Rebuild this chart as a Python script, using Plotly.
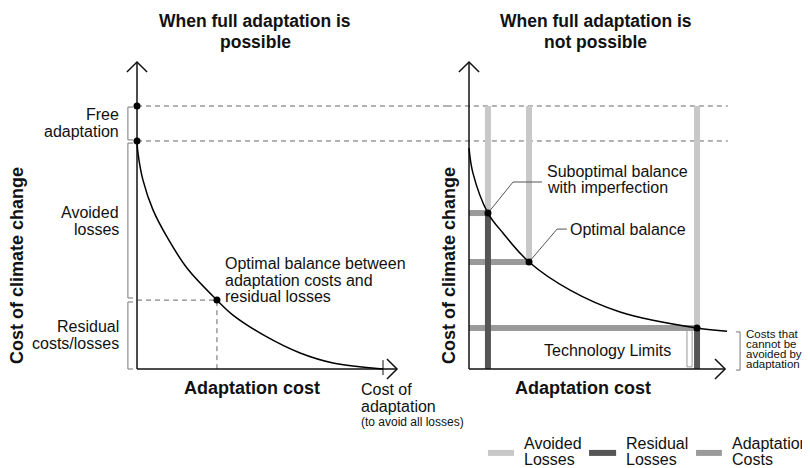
import plotly.graph_objects as go

FONT = "Liberation Sans, Arial, sans-serif"

# left panel: full adaptation is possible
left_curve_x = [0, 0.04, 0.24, 0.65, 1.22, 2.03, 3.25, 3.90, 5.28, 6.63, 7.97, 10.0]
left_curve_y = [8.67, 8.21, 7.19, 6.05, 5.02, 3.84, 2.62, 2.05, 1.22, 0.61, 0.23, 0.0]
total_cost = 10.0          # cost of climate change with no adaptation at all
cost_after_free = 8.67     # after free adaptation
left_optimal_x = 3.25
left_optimal_y = 2.62
full_adaptation_cost = 10.0
left_brackets = [(9.96, 8.71), (8.59, 2.70), (2.55, 0.0)]
left_bracket_labels = [["Free", "adaptation"], ["Avoided", "losses"], ["Residual", "costs/losses"]]

# right panel: full adaptation is not possible
right_curve_x = [0, 0.16, 0.77, 1.38, 2.44, 4.11, 6.14, 9.27, 10.49]
right_curve_y = [8.40, 7.45, 5.93, 5.17, 4.07, 3.00, 2.17, 1.56, 1.44]
balance_x = [0.77, 2.44, 9.27]      # suboptimal, optimal, technology limit
balance_y = [5.93, 4.07, 1.56]
show_residual = [True, False, True]
unavoidable = (1.41, -0.04)

legend_names = [["Avoided", "Losses"], ["Residual", "Losses"], ["Adaptation", "Costs"]]

# axis extents (arrow tips)
y_top = 11.67
left_x_tip = 10.57
right_x_tip = 10.41

LIGHT = "#c8c8c8"
DARK = "#555555"
MID = "#9a9a9a"
legend_colors = [LIGHT, DARK, MID]

fig = go.Figure()


def line(x, y, axes, color="#111", width=1.5, dash=None, shape="linear"):
    xa, ya = axes
    fig.add_trace(go.Scatter(x=x, y=y, mode="lines", xaxis=xa, yaxis=ya, line_shape=shape,
                             line=dict(color=color, width=width, dash=dash),
                             showlegend=False, hoverinfo="skip"))


def dots(x, y, axes):
    fig.add_trace(go.Scatter(x=x, y=y, mode="markers", xaxis=axes[0], yaxis=axes[1],
                             marker=dict(color="#000", size=7), showlegend=False,
                             hoverinfo="skip"))


def axes_arrows(x_tip, axes):
    ax, ay = 0.41, 0.38
    line([0, 0], [0, y_top], axes)
    line([-ax, 0, ax], [y_top - ay, y_top, y_top - ay], axes)
    line([0, x_tip], [0, 0], axes)
    line([x_tip - ax, x_tip, x_tip - ax], [ay, 0, -ay], axes)


L = ("x", "y")
R = ("x2", "y2")

# ---- left panel
for lvl in [total_cost, cost_after_free]:
    line([0, 12.7], [lvl, lvl], L, color="#666", width=1, dash="5px,4px")
    line([-0.9, 10.52], [lvl, lvl], R, color="#666", width=1, dash="5px,4px")
line([0, left_optimal_x, left_optimal_x], [left_optimal_y, left_optimal_y, 0], L,
     color="#666", width=1, dash="5px,4px")

for top, bot in left_brackets:
    line([-0.16, -0.37, -0.37, -0.16], [top, top, bot, bot], L, color="#777", width=1)

axes_arrows(left_x_tip, L)
line([full_adaptation_cost, full_adaptation_cost], [-0.23, 0.34], L, width=1)
line(left_curve_x, left_curve_y, L, color="#000", shape="spline")
dots([0, 0, left_optimal_x], [total_cost, cost_after_free, left_optimal_y], L)

# ---- right panel
bx, by = [], []
for x, y in zip(balance_x, balance_y):
    bx += [x, x, None]
    by += [total_cost, y, None]
line(bx, by, R, color=LIGHT, width=6)

hx, hy = [], []
for x, y in zip(balance_x, balance_y):
    hx += [0, x, None]
    hy += [y, y, None]
line(hx, hy, R, color=MID, width=6)

dx, dy = [], []
for x, y, show in zip(balance_x, balance_y, show_residual):
    if show:
        dx += [x, x, None]
        dy += [y, 0, None]
line(dx, dy, R, color=DARK, width=6)

fig.add_shape(type="rect", xref="x2", yref="y2", x0=8.86, x1=9.07, y0=0.08, y1=1.48,
              line=dict(color="#999", width=1), fillcolor="white", layer="below")

axes_arrows(right_x_tip, R)
line(right_curve_x, right_curve_y, R, color="#000", shape="spline")

# leader lines
line([balance_x[0], 1.79, 2.97], [balance_y[0], 7.11, 7.11], R, color="#555", width=1)
line([balance_x[1], 3.58, 3.98], [balance_y[1], 5.32, 5.32], R, color="#555", width=1)
dots(balance_x, balance_y, R)

line([10.85, 11.02, 11.02, 10.85], [unavoidable[0], unavoidable[0], unavoidable[1], unavoidable[1]],
     R, color="#777", width=1)


# ---- text
def text(lines, x, y, axes, size=16, spacing=17, anchor="left", bold=False, angle=0):
    n = len(lines)
    for i, t in enumerate(lines):
        fig.add_annotation(x=x, y=y, xref=axes[0], yref=axes[1],
                           text=f"<b>{t}</b>" if bold else t, showarrow=False,
                           xanchor=anchor, yanchor="middle", textangle=angle,
                           yshift=((n - 1) / 2 - i) * spacing,
                           font=dict(family=FONT, size=size, color="#111"))


text(["When full adaptation is", "possible"], 4.80, 12.85, L, size=17.5, spacing=21,
     anchor="center", bold=True)
text(["When full adaptation is", "not possible"], 5.16, 12.85, R, size=17.5, spacing=21,
     anchor="center", bold=True)

for (top, bot), lab in zip(left_brackets, left_bracket_labels):
    text(lab, -0.65, (top + bot) / 2, L, anchor="right")

text(["Optimal balance between", "adaptation costs and", "residual losses"], 3.50, 3.38, L,
     spacing=16.5)
text(["Cost of climate change"], -4.88, 3.95, L, size=18, anchor="center", bold=True, angle=-90)
text(["Cost of climate change"], -0.81, 3.92, R, size=18, anchor="center", bold=True, angle=-90)
text(["Adaptation cost"], 4.67, -0.72, L, size=18, anchor="center", bold=True)
text(["Adaptation cost"], 4.63, -0.72, R, size=18, anchor="center", bold=True)
text(["Cost of", "adaptation"], 9.02, -1.12, L)
text(["(to avoid all losses)"], 9.02, -2.02, L, size=12)

text(["Suboptimal balance", "with imperfection"], 3.09, 7.19, R, spacing=16)
text(["Optimal balance"], 4.02, 5.32, R)
text(["Technology Limits"], 5.61, 0.72, R, anchor="center")
text(["Costs that", "cannot be", "avoided by", "adaptation"], 11.16, 0.76, R, size=11.5,
     spacing=10.3)

# legend (drawn in the right panel's space)
swatch_x = [(0.77, 1.83), (4.88, 5.98), (9.23, 10.28)]
for lab, col, (x0, x1) in zip(legend_names, legend_colors, swatch_x):
    line([x0, x1], [-3.19, -3.19], R, color=col, width=6)
    text(lab, x1 + 0.32, -3.13, R, spacing=16.5)

# the page adds an 8px body margin, so the ranges are offset by 8px
fig.update_layout(
    width=810, height=468,
    margin=dict(l=0, r=0, t=0, b=0),
    plot_bgcolor="white", paper_bgcolor="white",
    font=dict(family=FONT, size=16, color="#111"),
    showlegend=False,
    xaxis=dict(domain=[0, 440 / 810], range=[-5.244, 12.642], visible=False),
    yaxis=dict(domain=[0, 1], range=[-4.068, 13.726], visible=False),
    xaxis2=dict(domain=[440 / 810, 1], range=[-0.854, 14.187], visible=False, anchor="y2"),
    yaxis2=dict(domain=[0, 1], range=[-4.068, 13.726], visible=False, anchor="x2"),
)

fig.write_html("out.html")
